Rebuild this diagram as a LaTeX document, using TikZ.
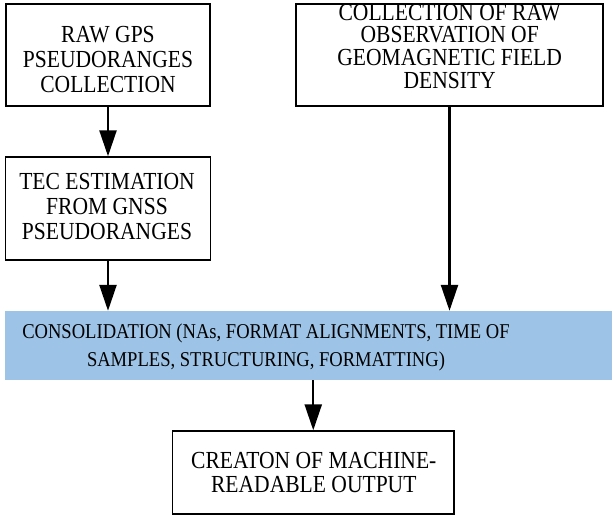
\documentclass[tikz,border=0pt]{standalone}
\usepackage{fontspec}
\setmainfont{Liberation Serif}[FakeStretch=0.88]
\usetikzlibrary{arrows.meta}
\definecolor{barblue}{HTML}{9DC3E6}
\tikzset{
  box/.style={draw=black, line width=1.4pt, rectangle, inner sep=0pt},
  bar/.style={fill=barblue, draw=none, rectangle, inner sep=0pt},
  txt/.style={inner sep=0pt, anchor=north, align=center, font=\fontsize{24.5}{25}\selectfont},
  flow/.style={line width=2.4pt, -{Triangle[length=26pt,width=17pt]}}
}
\begin{document}
\begin{tikzpicture}[x=1pt,y=-1pt]
\useasboundingbox (0,0) rectangle (612,515);
% boxes
\node[box, minimum width=204pt, minimum height=102pt] (raw) at (108,55) {};
\node[box, minimum width=307pt, minimum height=102pt] (geo) at (449.5,55) {};
\node[box, minimum width=205pt, minimum height=103pt] (tec) at (108,208.5) {};
\node[bar, minimum width=607pt, minimum height=69pt] (cons) at (308.5,345.5) {};
\node[box, minimum width=281.5pt, minimum height=83pt] (out) at (313.25,472.5) {};
% texts
\node[txt] (rawt) at (108,26) {RAW GPS\\PSEUDORANGES\\COLLECTION};
\node[txt, font=\fontsize{24.5}{22.7}\selectfont] (geot) at (449.7,3.6) {COLLECTION OF RAW\\OBSERVATION OF\\GEOMAGNETIC FIELD\\DENSITY};
\node[txt] (tect) at (107,173.3) {TEC ESTIMATION\\FROM GNSS\\PSEUDORANGES};
\node[txt, font=\fontsize{21.1}{27.7}\selectfont] (const) at (266,324) {CONSOLIDATION (NAs, FORMAT ALIGNMENTS, TIME OF\\SAMPLES, STRUCTURING, FORMATTING)};
\node[txt, font=\fontsize{24.5}{24.3}\selectfont] (outt) at (313.8,451.7) {CREATON OF MACHINE-\\READABLE OUTPUT};
% connectors
\draw[flow] (raw.south) -- (tec.north);
\draw[flow] (tec.south) -- (tec.south |- cons.north);
\draw[flow] (geo.south) -- (geo.south |- cons.north);
\draw[flow] (out.north |- cons.south) -- (out.north);
\end{tikzpicture}
\end{document}
